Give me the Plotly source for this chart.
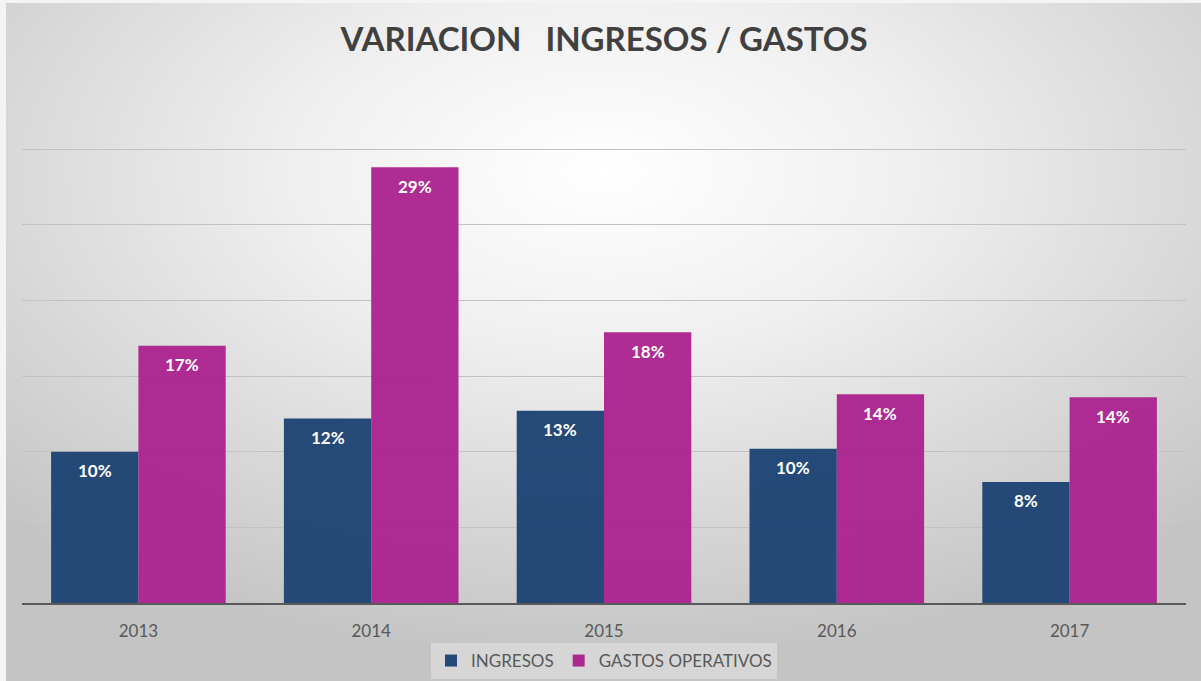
import base64
import plotly.graph_objects as go

years = ["2013", "2014", "2015", "2016", "2017"]
ingresos = [0.100, 0.122, 0.127, 0.102, 0.080]
gastos = [0.170, 0.288, 0.179, 0.138, 0.136]
series_names = ["INGRESOS", "GASTOS OPERATIVOS"]
series_colors = ["#1e4474", "#ab238f"]
title_text = "VARIACION\u00a0\u00a0\u00a0INGRESOS / GASTOS"

W, H = 1201, 681
L, R, T, B = 22, 15, 73, 78
pw, ph = W - L - R, H - T - B
BARGAP = 0.25
bar_px = pw / len(years) * (1 - BARGAP) / 2

svg = (
    f'<svg xmlns="http://www.w3.org/2000/svg" width="{W}" height="{H}" preserveAspectRatio="none">'
    '<defs><radialGradient id="g" cx="50%" cy="25%" r="72%">'
    '<stop offset="0" stop-color="#ffffff"/><stop offset="0.35" stop-color="#f0f0f0"/>'
    '<stop offset="1" stop-color="#c4c4c4"/></radialGradient></defs>'
    f'<rect width="{W}" height="{H}" fill="url(#g)"/></svg>'
)
bg_uri = "data:image/svg+xml;base64," + base64.b64encode(svg.encode()).decode()

fig = go.Figure()
for name, vals, col in zip(series_names, [ingresos, gastos], series_colors):
    fig.add_trace(go.Bar(
        x=years, y=vals, name=name,
        marker=dict(color=col, line=dict(width=0)), opacity=0.96,
    ))

annotations = []
for k, vals in enumerate([ingresos, gastos]):
    shift = (-0.5 if k == 0 else 0.5) * bar_px
    for i, v in enumerate(vals):
        annotations.append(dict(
            x=i, y=v, xref="x", yref="y", text=f"{v:.0%}", showarrow=False,
            xshift=shift, yshift=-19, yanchor="middle", xanchor="center",
            font=dict(color="white", size=17, family="Lato", weight="bold"),
        ))

fig.update_layout(
    width=W, height=H,
    margin=dict(l=L, r=R, t=T, b=B, pad=0, autoexpand=False),
    paper_bgcolor="#f4f4f4", plot_bgcolor="rgba(0,0,0,0)",
    barmode="group", bargap=BARGAP, bargroupgap=0,
    title=dict(text=title_text, x=0.5, xanchor="center", xref="paper",
               y=1 - 39 / H, yref="container", yanchor="middle",
               font=dict(family="Lato", size=33, color="#404040", weight="bold")),
    xaxis=dict(type="category", range=[-0.5, len(years) - 0.5], showgrid=False,
               showline=True, linecolor="#595959", linewidth=2, ticks="",
               automargin=False,
               tickfont=dict(family="Lato", size=17, color="#595959"),
               ticklabelstandoff=12),
    yaxis=dict(range=[0, 0.3503], dtick=0.05, showticklabels=False, automargin=False,
               gridcolor="#c2c2c2", gridwidth=1, zeroline=False),
    legend=dict(orientation="h", x=0.5, xanchor="center", xref="paper",
                y=-(661 - (H - B)) / ph, yref="paper", yanchor="middle",
                bgcolor="rgba(255,255,255,0.3)",
                font=dict(family="Lato", size=17, color="#595959"),
                itemwidth=30, traceorder="normal"),
    annotations=annotations,
    images=[dict(source=bg_uri, xref="paper", yref="paper",
                 x=-(L - 6) / pw, y=1 + (T - 3) / ph,
                 sizex=(W - 6) / pw, sizey=(H - 3) / ph,
                 sizing="stretch", layer="below", xanchor="left", yanchor="top")],
    showlegend=True,
)

fig.write_html("out.html", config={"displayModeBar": False},
               post_script="document.body.style.margin='0';")
